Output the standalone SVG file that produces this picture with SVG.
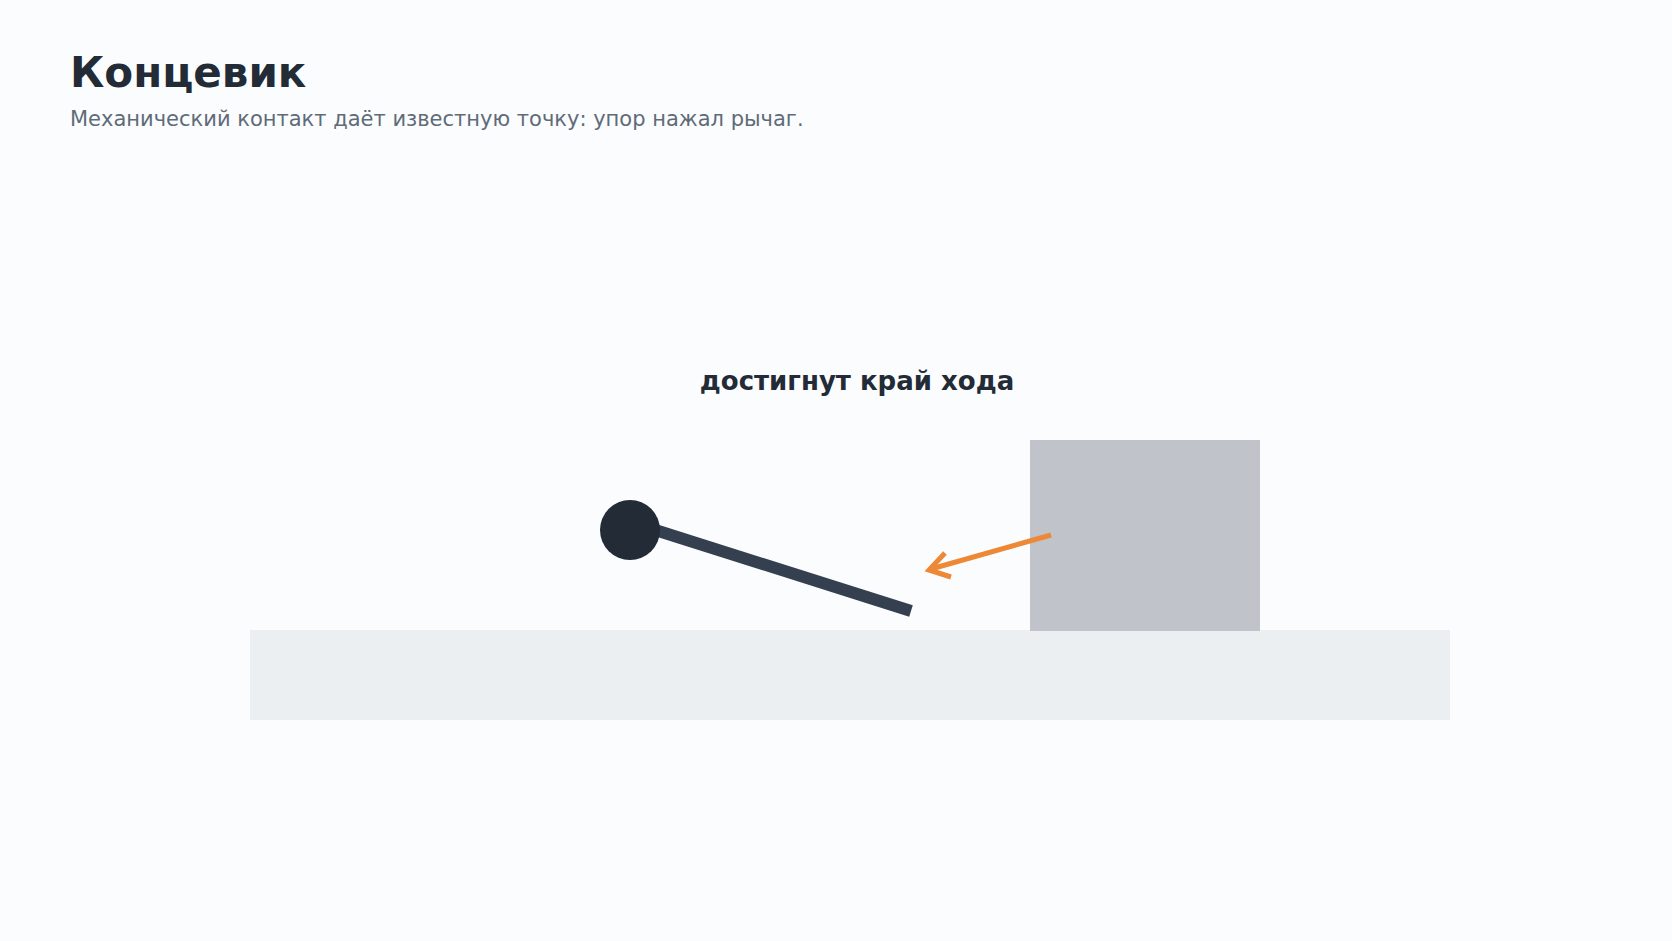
<svg xmlns="http://www.w3.org/2000/svg" width="1672" height="941" viewBox="0 0 1672 941">
  <defs>
    <style>
      .title { font-family: "DejaVu Sans", sans-serif; font-weight: bold; font-size: 42px; fill: #222b36; }
      .sub { font-family: "DejaVu Sans", sans-serif; font-size: 21px; fill: #5f6b78; }
      .label { font-family: "DejaVu Sans", sans-serif; font-weight: bold; font-size: 26px; fill: #222b36; }
      .arrow { fill: none; stroke: #ed8936; stroke-width: 5; }
    </style>
  </defs>
  <rect x="0" y="0" width="1672" height="941" fill="#fbfcfe"/>
  <text class="title" x="70" y="87">Концевик</text>
  <text class="sub" x="70" y="126">Механический контакт даёт известную точку: упор нажал рычаг.</text>
  <g id="base"><rect x="250" y="630" width="1200" height="90" fill="#eceff1"/></g>
  <g id="stop"><rect x="1030" y="440" width="230" height="191" fill="#c0c4ca"/></g>
  <g id="lever">
    <line x1="630" y1="522" x2="911" y2="611" stroke="#344050" stroke-width="12"/>
    <circle cx="630" cy="530" r="30" fill="#222b36"/>
  </g>
  <g id="label"><text class="label" x="857" y="390" text-anchor="middle">достигнут край хода</text></g>
  <g id="connectors">
    <line class="arrow" x1="1051" y1="535" x2="931" y2="569"/>
    <polyline class="arrow" points="945,553 929,570 951,577"/>
  </g>
</svg>
